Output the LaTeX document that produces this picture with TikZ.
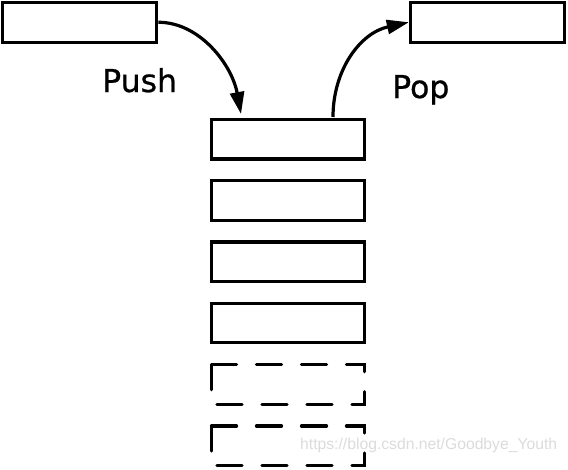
\documentclass[tikz,border=0pt]{standalone}
\usepackage{fontspec}
\setmainfont{Liberation Sans}
\newfontfamily\labelfont[FakeBold=0.8]{DejaVu Sans}
\usetikzlibrary{arrows.meta}
\begin{document}
\begin{tikzpicture}[x=1pt,y=-1pt,
  cell/.style={draw=black,line width=3.3pt,fill=white},
  ghost/.style={draw=black,line width=3.3pt,dash pattern=on 25pt off 20pt,line cap=round},
  flow/.style={draw=black,line width=3.2pt,-{Triangle[length=22pt,width=14pt]}},
  lbl/.style={inner sep=0pt,anchor=base west,font=\labelfont\fontsize{31.5}{36}\selectfont},
  wmark/.style={inner sep=0pt,anchor=base west,text=black!14,font=\fontsize{15.7}{17}\selectfont}]
\useasboundingbox (0,0) rectangle (568,469);
% watermark
\node[wmark] (wm) at (300,449) {https://blog.csdn.net/Goodbye\_Youth};
% top boxes
\node[cell,minimum width=154pt,minimum height=40pt,inner sep=0pt] (src) at (79.75,22.25) {};
\node[cell,minimum width=154pt,minimum height=40pt,inner sep=0pt] (dst) at (487.5,22.25) {};
% stack
\foreach \i/\y in {1/139.25,2/200.5,3/261.75,4/323}{
  \node[cell,minimum width=153pt,minimum height=39.5pt,inner sep=0pt] (s\i) at (288,\y) {};
}
\coordinate (g1a) at (211.5,364.7);
\coordinate (g1b) at (364.5,404.2);
\coordinate (g2a) at (211.5,426);
\coordinate (g2b) at (364.5,465.5);
\draw[ghost] (g1a) -- (g1a -| g1b) -- (g1b) -- (g1b -| g1a) -- cycle;
\draw[ghost] (g2a) -- (g2a -| g2b) -- (g2b) -- (g2b -| g2a) -- cycle;
% arrows
\coordinate (pushend) at (241,114);
\coordinate (popstart) at (333,117);
\draw[flow] (src.east) .. controls (200,22.25) and (232,65) .. (pushend);
\draw[flow] (popstart) .. controls (333,70) and (360,33) .. (dst.west);
% labels
\node[lbl] (push) at (102,92) {Push};
\node[lbl] (pop) at (392,98) {Pop};
\end{tikzpicture}
\end{document}
